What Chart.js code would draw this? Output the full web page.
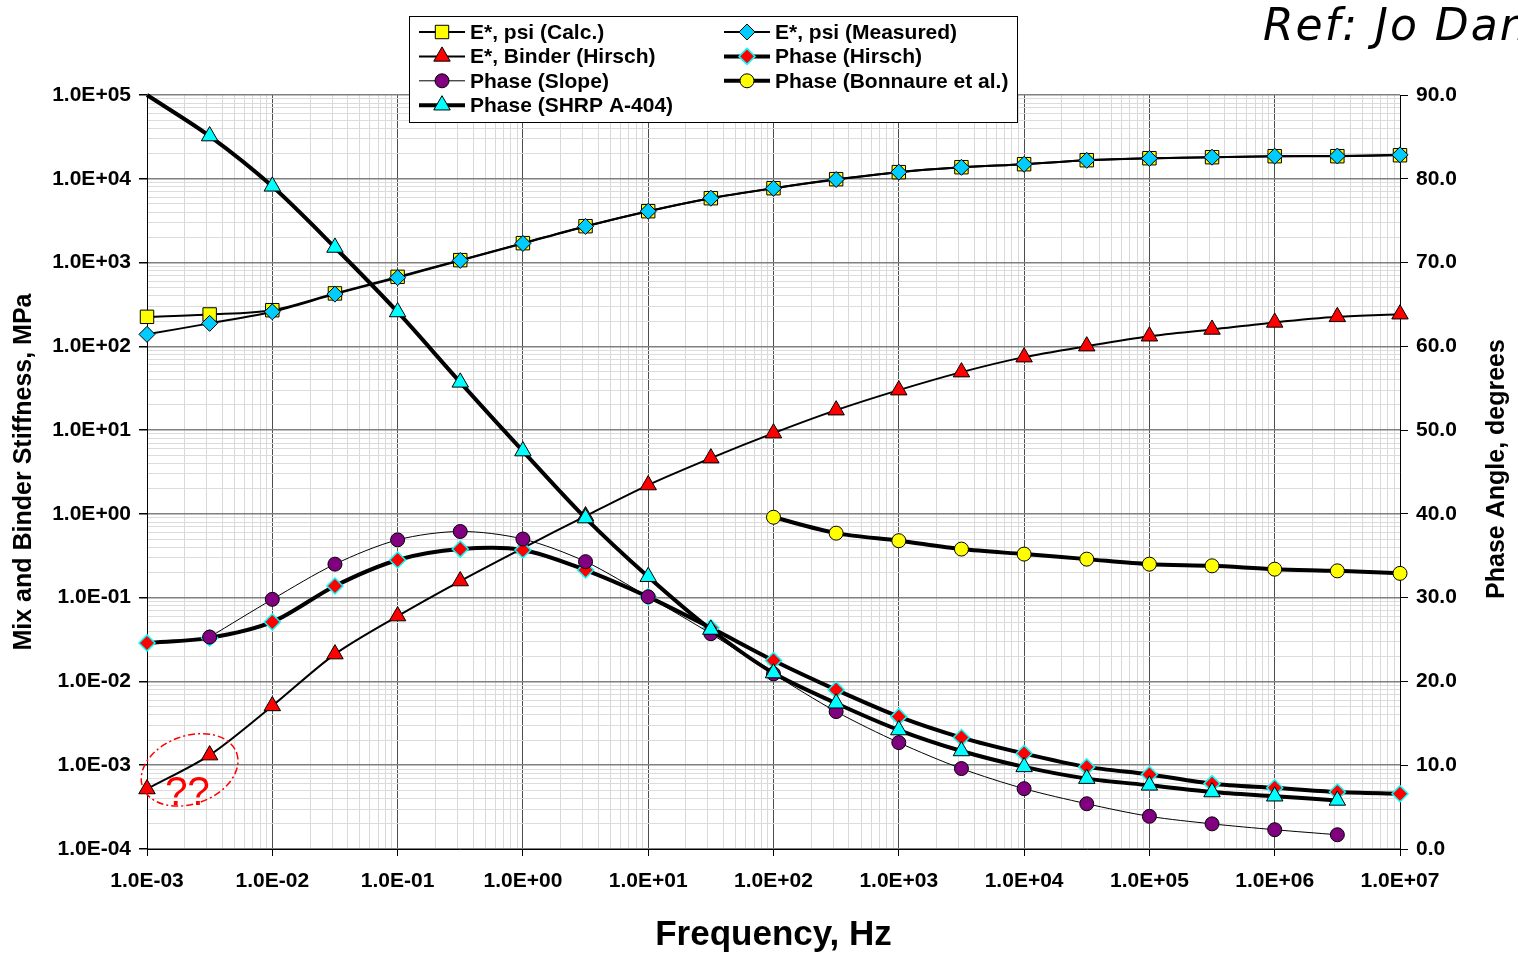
<!DOCTYPE html>
<html lang="en">
<head>
  <meta charset="UTF-8">
  <title>Mix and Binder Stiffness vs Frequency</title>
  <script src="https://cdn.jsdelivr.net/npm/chart.js"></script>
  <style>
    html, body { margin: 0; padding: 0; background: #fff; overflow: hidden; }
    .chart-container { position: relative; width: 1518px; height: 954px; }
  </style>
</head>
<body>
  <div class="chart-container">
    <canvas id="stiffnessChart"></canvas>
  </div>

  <script>
    // Frequencies (Hz), half-decade steps
    const frequency = [1e-3, 3.162e-3, 1e-2, 3.162e-2, 1e-1, 3.162e-1, 1, 3.162, 10, 31.62, 100, 316.2,
                       1e3, 3.162e3, 1e4, 3.162e4, 1e5, 3.162e5, 1e6, 3.162e6, 1e7];

    // Left axis (stiffness)
    const eCalc     = [225, 240, 270, 428, 675, 1069, 1705, 2718, 4105, 5865, 7720, 9890, 12000, 13750, 14930, 16670, 17600, 18100, 18600, 18600, 19100];
    const eMeasured = [139, 188, 258, 420, 660, 1060, 1690, 2700, 4100, 5860, 7700, 9800, 12000, 13700, 14900, 16600, 17500, 18100, 18600, 18700, 19300];
    const eBinder   = [5.2e-4, 1.32e-3, 5.1e-3, 0.0212, 0.0603, 0.158, 0.391, 0.942, 2.21, 4.63, 9.2, 17.3, 30.0, 49.2, 74.3, 100.5, 132, 159, 193, 225, 242];

    // Right axis (phase angle, degrees)
    const phaseSlope    = [null, 25.3, 29.8, 34.0, 36.9, 37.9, 37.0, 34.3, 30.1, 25.7, 20.9, 16.4, 12.7, 9.6, 7.2, 5.4, 3.9, 3.0, 2.3, 1.7, null];
    const phaseHirsch   = [24.6, 25.2, 27.1, 31.4, 34.5, 35.8, 35.7, 33.3, 30.1, 26.4, 22.5, 19.0, 15.8, 13.3, 11.4, 9.8, 8.9, 7.8, 7.3, 6.8, 6.6];
    const phaseShrp     = [90.0, 85.1, 79.1, 71.8, 64.1, 55.7, 47.5, 39.5, 32.5, 26.2, 21.0, 17.4, 14.2, 11.7, 9.8, 8.4, 7.6, 6.8, 6.3, 5.8, null];
    const phaseBonnaure = [null, null, null, null, null, null, null, null, null, null, 39.6, 37.7, 36.8, 35.8, 35.2, 34.6, 34.0, 33.8, 33.4, 33.2, 32.9];

    const FONT = "'Liberation Sans', Arial, sans-serif";

    function toPoints(values) {
      return frequency.map((f, i) => ({ x: f, y: values[i] }));
    }

    function isDecade(v) {
      const l = Math.log10(v);
      return Math.abs(l - Math.round(l)) < 1e-6;
    }

    function sci(v) {
      const e = Math.round(Math.log10(v));
      return '1.0E' + (e < 0 ? '-' : '+') + String(Math.abs(e)).padStart(2, '0');
    }

    function logTicks(lo, hi) {
      const t = [];
      for (let e = lo; e < hi; e++) {
        for (let m = 1; m < 10; m++) t.push(m * Math.pow(10, e));
      }
      t.push(Math.pow(10, hi));
      return t.map(v => ({ value: v }));
    }

    function drawMarker(ctx, style, r, x, y) {
      ctx.beginPath();
      if (style === 'circle') {
        ctx.arc(x, y, r, 0, Math.PI * 2);
      } else if (style === 'rect') {
        const s = r * Math.SQRT1_2;
        ctx.rect(x - s, y - s, 2 * s, 2 * s);
      } else if (style === 'rectRot') {
        ctx.moveTo(x, y - r); ctx.lineTo(x + r, y); ctx.lineTo(x, y + r); ctx.lineTo(x - r, y);
        ctx.closePath();
      } else if (style === 'triangle') {
        for (let k = 0; k < 3; k++) {
          const a = k * 2 * Math.PI / 3;
          ctx.lineTo(x + Math.sin(a) * r, y - Math.cos(a) * r);
        }
        ctx.closePath();
      }
      ctx.fill();
      ctx.stroke();
    }

    // Legend, right title, reference note and the "??" annotation
    const decorations = {
      id: 'decorations',
      afterDraw(chart) {
        const ctx = chart.ctx;
        const xs = chart.scales.x, ys = chart.scales.y;

        // annotation ellipse around the first binder points
        const cx = xs.getPixelForValue(Math.pow(10, -2.66));
        const cy = ys.getPixelForValue(8.8e-4);
        ctx.save();
        ctx.strokeStyle = '#ff0000';
        ctx.lineWidth = 1.5;
        ctx.setLineDash([7, 3, 2, 3]);
        ctx.beginPath();
        ctx.ellipse(cx, cy, 50, 34, -0.35, 0, Math.PI * 2);
        ctx.stroke();
        ctx.setLineDash([]);
        ctx.fillStyle = '#ff0000';
        ctx.font = '40px ' + FONT;
        ctx.textAlign = 'center';
        ctx.textBaseline = 'middle';
        ctx.fillText('??', cx - 2, cy + 24);
        ctx.restore();

        // legend box
        ctx.save();
        ctx.fillStyle = '#fff';
        ctx.fillRect(409, 16, 608, 106);
        ctx.strokeStyle = '#000';
        ctx.lineWidth = 1;
        ctx.strokeRect(409.5, 16.5, 608, 106);
        ctx.font = 'bold 21px ' + FONT;
        ctx.textBaseline = 'middle';
        ctx.textAlign = 'left';
        chart.data.datasets.forEach((ds, i) => {
          const col = i % 2, row = Math.floor(i / 2);
          const x0 = col === 0 ? 419 : 724;
          const y = 32 + row * 24.4;
          ctx.strokeStyle = '#000';
          ctx.lineWidth = ds.borderWidth;
          ctx.beginPath();
          ctx.moveTo(x0, y); ctx.lineTo(x0 + 46, y);
          ctx.stroke();
          ctx.fillStyle = ds.pointBackgroundColor;
          ctx.strokeStyle = ds.pointBorderColor;
          ctx.lineWidth = ds.pointBorderWidth;
          drawMarker(ctx, ds.pointStyle, ds.legendRadius, x0 + 23, y);
          ctx.fillStyle = '#000';
          ctx.fillText(ds.label, x0 + 51, y + 1);
        });
        ctx.restore();

        // right axis title (reads bottom to top)
        const area = chart.chartArea;
        ctx.save();
        ctx.translate(1497, (area.top + area.bottom) / 2 - 3);
        ctx.rotate(-Math.PI / 2);
        ctx.font = 'bold 25px ' + FONT;
        ctx.fillStyle = '#000';
        ctx.textAlign = 'center';
        ctx.textBaseline = 'middle';
        ctx.fillText('Phase Angle, degrees', 0, 0);
        ctx.restore();

        // reference note, cut by the page edge
        ctx.save();
        ctx.font = 'italic 44px "DejaVu Sans", Verdana, sans-serif';
        ctx.letterSpacing = '2px';
        ctx.fillStyle = '#000';
        ctx.textBaseline = 'alphabetic';
        ctx.fillText('Ref: Jo Daniel', 1263, 40);
        ctx.restore();
      }
    };

    const tickFont = { family: FONT, size: 21, weight: 'bold' };
    const majorTick = c => (c.tick && isDecade(c.tick.value)) ? '#000' : 'rgba(0,0,0,0)';

    const stiffnessChart = new Chart(document.getElementById('stiffnessChart').getContext('2d'), {
      type: 'line',
      data: {
        datasets: [
          { label: 'E*, psi (Calc.)', data: toPoints(eCalc), yAxisID: 'y', order: 7,
            borderColor: '#000', borderWidth: 2, tension: 0.3,
            pointStyle: 'rect', pointRadius: 9.5, legendRadius: 9.5,
            pointBackgroundColor: '#ffff00', pointBorderColor: '#000', pointBorderWidth: 1 },
          { label: 'E*, psi (Measured)', data: toPoints(eMeasured), yAxisID: 'y', order: 6,
            borderColor: '#000', borderWidth: 2, tension: 0.3,
            pointStyle: 'rectRot', pointRadius: 8, legendRadius: 8,
            pointBackgroundColor: '#00ccff', pointBorderColor: '#000', pointBorderWidth: 1 },
          { label: 'E*, Binder (Hirsch)', data: toPoints(eBinder), yAxisID: 'y', order: 5,
            borderColor: '#000', borderWidth: 2, tension: 0.3,
            pointStyle: 'triangle', pointRadius: 9.5, legendRadius: 9.5,
            pointBackgroundColor: '#ff0000', pointBorderColor: '#000', pointBorderWidth: 1 },
          { label: 'Phase (Hirsch)', data: toPoints(phaseHirsch), yAxisID: 'y1', order: 4,
            borderColor: '#000', borderWidth: 4, tension: 0.3,
            pointStyle: 'rectRot', pointRadius: 8, legendRadius: 8,
            pointBackgroundColor: '#ff0000', pointBorderColor: '#00ffff', pointBorderWidth: 1.5 },
          { label: 'Phase (Slope)', data: toPoints(phaseSlope), yAxisID: 'y1', order: 3,
            borderColor: '#000', borderWidth: 1, tension: 0.3,
            pointStyle: 'circle', pointRadius: 7, legendRadius: 7,
            pointBackgroundColor: '#800080', pointBorderColor: '#000', pointBorderWidth: 1 },
          { label: 'Phase (Bonnaure et al.)', data: toPoints(phaseBonnaure), yAxisID: 'y1', order: 2,
            borderColor: '#000', borderWidth: 4, tension: 0.3,
            pointStyle: 'circle', pointRadius: 7, legendRadius: 7,
            pointBackgroundColor: '#ffff00', pointBorderColor: '#000', pointBorderWidth: 1 },
          { label: 'Phase (SHRP A-404)', data: toPoints(phaseShrp), yAxisID: 'y1', order: 1,
            borderColor: '#000', borderWidth: 4, tension: 0.3,
            pointStyle: 'triangle', pointRadius: frequency.map((f, i) => i === 0 ? 0 : 9.5), legendRadius: 9.5,
            pointBackgroundColor: '#00ffff', pointBorderColor: '#000', pointBorderWidth: 1 }
        ]
      },
      options: {
        responsive: true,
        maintainAspectRatio: false,
        animation: false,
        layout: { padding: { top: 95, left: 0, right: 0, bottom: 0 } },
        datasets: { line: { clip: false } },
        plugins: { legend: { display: false }, tooltip: { enabled: false } },
        scales: {
          x: {
            type: 'logarithmic', min: 1e-3, max: 1e7,
            afterBuildTicks: s => { s.ticks = logTicks(-3, 7); },
            afterFit: s => { s.height = 105; },
            ticks: { autoSkip: false, maxRotation: 0, minRotation: 0, padding: 13, color: '#000', font: tickFont,
                     callback: v => isDecade(v) ? sci(v) : '' },
            grid: { color: c => (c.tick && isDecade(c.tick.value)) ? '#4d4d4d' : '#d9d9d9',
                    tickColor: majorTick, tickLength: 7 },
            border: { color: '#000', width: 1 },
            title: { display: true, text: 'Frequency, Hz', color: '#000',
                     font: { family: FONT, size: 35, weight: 'bold' }, padding: { top: 0, bottom: -2 } }
          },
          y: {
            type: 'logarithmic', position: 'left', min: 1e-4, max: 1e5,
            afterBuildTicks: s => { s.ticks = logTicks(-4, 5); },
            afterFit: s => { s.width = 147; },
            ticks: { autoSkip: false, padding: 8, color: '#000', font: tickFont,
                     callback: v => isDecade(v) ? sci(v) : '' },
            grid: { color: c => (c.tick && isDecade(c.tick.value)) ? '#808080' : '#dcdcdc',
                    lineWidth: c => (c.tick && isDecade(c.tick.value)) ? 1.5 : 1,
                    tickColor: majorTick, tickLength: 8 },
            border: { color: '#000', width: 1 },
            title: { display: true, text: 'Mix and Binder Stiffness, MPa', color: '#000',
                     font: { family: FONT, size: 25, weight: 'bold' }, padding: { top: 9, bottom: 0 } }
          },
          y1: {
            type: 'linear', position: 'right', min: 0, max: 90,
            afterFit: s => { s.width = 118; },
            ticks: { stepSize: 10, padding: 8, color: '#000', font: tickFont, callback: v => v.toFixed(1) },
            grid: { drawOnChartArea: false, tickColor: '#000', tickLength: 8 },
            border: { color: '#000', width: 1 }
          }
        }
      },
      plugins: [decorations]
    });
  </script>
</body>
</html>
